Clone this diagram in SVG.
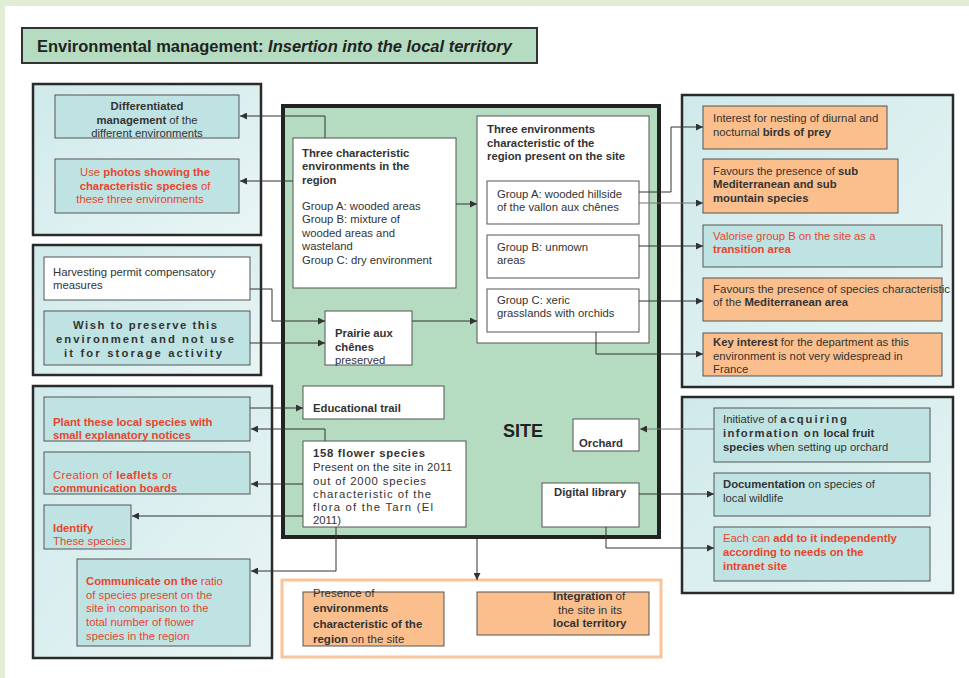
<svg xmlns="http://www.w3.org/2000/svg" width="969" height="678" viewBox="0 0 969 678">
<defs>
<linearGradient id="pg" x1="0" y1="0" x2="1" y2="1">
<stop offset="0" stop-color="#cfe9ea"/>
<stop offset="1" stop-color="#e9f5f5"/>
</linearGradient>
<marker id="ar" markerWidth="7" markerHeight="7" refX="7" refY="3.5" orient="auto" markerUnits="userSpaceOnUse">
<path d="M0,0 L7,3.5 L0,7 z" fill="#333"/>
</marker>
<style>
.panel{fill:url(#pg);stroke:#2a2a2a;stroke-width:2.5}
.teal{fill:#bfe3e3;stroke:#555;stroke-width:1}
.wh{fill:#fff;stroke:#555;stroke-width:1}
.or{fill:#fbbf8d;stroke:#555;stroke-width:1}
.t{font-family:"Liberation Sans",Arial,sans-serif;font-size:11.3px;fill:#333}
.r{fill:#e8452c}
.b{font-weight:bold}
.c{stroke:#333;stroke-width:1;fill:none;marker-end:url(#ar)}
.g{stroke:#777}
</style>
</defs>
<rect x="0" y="0" width="969" height="678" fill="#e2eed3"/>
<rect x="5" y="6" width="964" height="672" fill="#fff"/>

<g id="title">
<rect x="22" y="28" width="515" height="35" fill="#b5dcc0" stroke="#333" stroke-width="2"/>
<text x="37" y="52" class="t b" style="font-size:16.5px;fill:#222">Environmental management: <tspan font-style="italic">Insertion into the local territory</tspan></text>
</g>

<g id="panel-top-left">
<rect x="33" y="84" width="228" height="151" class="panel"/>
</g>
<g id="differentiated">
<rect x="55" y="95" width="184" height="43" class="teal"/>
<text class="t" text-anchor="middle"><tspan x="147" y="110" class="b">Differentiated</tspan><tspan x="147" y="124"><tspan class="b">management</tspan> of the</tspan><tspan x="147" y="137">different environments</tspan></text>
</g>
<g id="photos">
<rect x="55" y="159" width="184" height="54" class="teal"/>
<text class="t r" text-anchor="middle"><tspan x="145" y="176">Use <tspan class="b">photos showing the</tspan></tspan><tspan x="145" y="190"><tspan class="b">characteristic species</tspan> of</tspan><tspan x="140" y="203">these three environments</tspan></text>
</g>

<g id="panel-mid-left">
<rect x="33" y="245" width="228" height="130" class="panel"/>
</g>
<g id="harvesting">
<rect x="44" y="257" width="206" height="43" class="wh"/>
<text class="t"><tspan x="53" y="276">Harvesting permit compensatory</tspan><tspan x="53" y="289">measures</tspan></text>
</g>
<g id="wish">
<rect x="44" y="311" width="206" height="54" class="teal"/>
<text class="t b" text-anchor="middle"><tspan x="145" y="329" textLength="144" lengthAdjust="spacing">Wish to preserve this</tspan><tspan x="145" y="343" textLength="178" lengthAdjust="spacing">environment and not use</tspan><tspan x="143" y="357" textLength="158" lengthAdjust="spacing">it for storage activity</tspan></text>
</g>

<g id="panel-bottom-left">
<rect x="33" y="386" width="239" height="272" class="panel"/>
</g>
<g id="plant">
<rect x="44" y="397" width="206" height="44" class="teal"/>
<text class="t r b"><tspan x="53" y="426">Plant these local species with</tspan><tspan x="53" y="439">small explanatory notices</tspan></text>
</g>
<g id="creation">
<rect x="44" y="452" width="206" height="42" class="teal"/>
<text class="t r"><tspan x="53" y="479" letter-spacing="0.4">Creation of <tspan class="b">leaflets</tspan> or</tspan><tspan x="53" y="492" class="b">communication boards</tspan></text>
</g>
<g id="identify">
<rect x="44" y="505" width="87" height="44" class="teal"/>
<text class="t r"><tspan x="53" y="532" class="b">Identify</tspan><tspan x="53" y="545">These species</tspan></text>
</g>
<g id="communicate">
<rect x="77" y="559" width="173" height="87" class="teal"/>
<text class="t r"><tspan x="86" y="585"><tspan class="b">Communicate on the</tspan> ratio</tspan><tspan x="86" y="599">of species present on the</tspan><tspan x="86" y="612">site in comparison to the</tspan><tspan x="86" y="626">total number of flower</tspan><tspan x="86" y="640">species in the region</tspan></text>
</g>

<g id="site">
<rect x="283" y="106" width="376" height="431" fill="#b5dcc0" stroke="#222" stroke-width="4"/>
<text x="523" y="437" class="t b" text-anchor="middle" style="font-size:18px;fill:#222">SITE</text>
</g>
<g id="three-characteristic">
<rect x="293" y="138" width="163" height="150" class="wh"/>
<text class="t"><tspan x="302" y="157" class="b">Three characteristic</tspan><tspan x="302" y="170" class="b">environments in the</tspan><tspan x="302" y="184" class="b">region</tspan><tspan x="302" y="210">Group A: wooded areas</tspan><tspan x="302" y="223">Group B: mixture of</tspan><tspan x="302" y="237">wooded areas and</tspan><tspan x="302" y="250">wasteland</tspan><tspan x="302" y="264">Group C: dry environment</tspan></text>
</g>
<g id="three-present">
<rect x="477" y="116" width="172" height="227" class="wh"/>
<text class="t b"><tspan x="487" y="133">Three environments</tspan><tspan x="487" y="147">characteristic of the</tspan><tspan x="487" y="160">region present on the site</tspan></text>
</g>
<g id="group-a">
<rect x="487" y="181" width="152" height="43" class="wh"/>
<text class="t"><tspan x="497" y="198">Group A: wooded hillside</tspan><tspan x="497" y="211">of the vallon aux chênes</tspan></text>
</g>
<g id="group-b">
<rect x="487" y="235" width="152" height="43" class="wh"/>
<text class="t"><tspan x="497" y="251">Group B: unmown</tspan><tspan x="497" y="264">areas</tspan></text>
</g>
<g id="group-c">
<rect x="487" y="289" width="152" height="43" class="wh"/>
<text class="t"><tspan x="497" y="304">Group C: xeric</tspan><tspan x="497" y="317">grasslands with orchids</tspan></text>
</g>
<g id="prairie">
<rect x="325" y="311" width="87" height="54" class="wh"/>
<text class="t"><tspan x="335" y="337" class="b">Prairie aux</tspan><tspan x="335" y="351" class="b">chênes</tspan><tspan x="335" y="364">preserved</tspan></text>
</g>
<g id="educational-trail">
<rect x="303" y="386" width="141" height="33" class="wh"/>
<text x="313" y="412" class="t b">Educational trail</text>
</g>
<g id="flower-species">
<rect x="303" y="441" width="163" height="86" class="wh"/>
<text class="t"><tspan x="313" y="457" class="b" textLength="112" lengthAdjust="spacing">158 flower species</tspan><tspan x="313" y="471" textLength="139" lengthAdjust="spacing">Present on the site in 2011</tspan><tspan x="313" y="485" textLength="113" lengthAdjust="spacing">out of 2000 species</tspan><tspan x="313" y="498" textLength="118" lengthAdjust="spacing">characteristic of the</tspan><tspan x="313" y="511" textLength="120" lengthAdjust="spacing">flora of the Tarn (El</tspan><tspan x="313" y="524">2011)</tspan></text>
</g>
<g id="orchard">
<rect x="573" y="419" width="66" height="32" class="wh"/>
<text x="579" y="447" class="t b">Orchard</text>
</g>
<g id="digital-library">
<rect x="542" y="483" width="97" height="44" class="wh"/>
<text x="554" y="496" class="t b">Digital library</text>
</g>

<g id="bottom-frame">
<rect x="282" y="580" width="379" height="77" fill="#fff" stroke="#f9c49a" stroke-width="3"/>
</g>
<g id="presence">
<rect x="303" y="592" width="141" height="54" class="or"/>
<text class="t" style="font-size:11.5px"><tspan x="313" y="597">Presence of</tspan><tspan x="313" y="612" class="b">environments</tspan><tspan x="313" y="628" class="b">characteristic of the</tspan><tspan x="313" y="643"><tspan class="b">region</tspan> on the site</tspan></text>
</g>
<g id="integration">
<rect x="477" y="592" width="172" height="43" class="or"/>
<text class="t" style="font-size:11.5px"><tspan x="553" y="600"><tspan class="b">Integration</tspan>  of</tspan><tspan x="558" y="614">the site in its</tspan><tspan x="553" y="627" class="b">local territory</tspan></text>
</g>

<g id="panel-top-right">
<rect x="682" y="95" width="271" height="292" class="panel"/>
</g>
<g id="birds">
<rect x="703" y="106" width="184" height="43" class="or"/>
<text class="t"><tspan x="713" y="122">Interest for nesting of diurnal and</tspan><tspan x="713" y="136">nocturnal <tspan class="b">birds of prey</tspan></tspan></text>
</g>
<g id="sub-med">
<rect x="703" y="159" width="195" height="54" class="or"/>
<text class="t"><tspan x="713" y="175">Favours the presence of <tspan class="b">sub</tspan></tspan><tspan x="713" y="188" class="b">Mediterranean and sub</tspan><tspan x="713" y="202" class="b">mountain species</tspan></text>
</g>
<g id="valorise">
<rect x="703" y="225" width="239" height="42" class="teal"/>
<text class="t r"><tspan x="713" y="240">Valorise group B on the site as a</tspan><tspan x="713" y="253" class="b">transition area</tspan></text>
</g>
<g id="med-area">
<rect x="703" y="278" width="239" height="43" class="or"/>
<text class="t"><tspan x="713" y="293" textLength="237" lengthAdjust="spacingAndGlyphs">Favours the presence of species characteristic</tspan><tspan x="713" y="306">of the <tspan class="b">Mediterranean area</tspan></tspan></text>
</g>
<g id="key-interest">
<rect x="703" y="333" width="239" height="43" class="or"/>
<text class="t"><tspan x="713" y="346"><tspan class="b">Key interest</tspan> for the department as this</tspan><tspan x="713" y="360">environment is not very widespread in</tspan><tspan x="713" y="373">France</tspan></text>
</g>

<g id="panel-bottom-right">
<rect x="682" y="397" width="271" height="196" class="panel"/>
</g>
<g id="initiative">
<rect x="714" y="408" width="216" height="54" class="teal"/>
<text class="t"><tspan x="723" y="423">Initiative of <tspan class="b" letter-spacing="2">acquiring</tspan></tspan><tspan x="723" y="437" class="b"><tspan letter-spacing="1.3">information on</tspan> local fruit</tspan><tspan x="723" y="451"><tspan class="b">species</tspan> when setting up orchard</tspan></text>
</g>
<g id="documentation">
<rect x="714" y="473" width="216" height="43" class="teal"/>
<text class="t"><tspan x="723" y="488"><tspan class="b">Documentation</tspan>  on species of</tspan><tspan x="723" y="502">local wildlife</tspan></text>
</g>
<g id="each-can">
<rect x="714" y="527" width="216" height="54" class="teal"/>
<text class="t r"><tspan x="723" y="542">Each can <tspan class="b">add to it independently</tspan></tspan><tspan x="723" y="556" class="b">according to needs on the</tspan><tspan x="723" y="570" class="b">intranet site</tspan></text>
</g>

<g id="connectors">
<path class="c" d="M325,138 V116 H240"/>
<path class="c" d="M293,181 H240"/>
<path class="c" d="M250,289 H272 V321 H325"/>
<path class="c" d="M250,343 H325"/>
<path class="c" d="M456,204 H477"/>
<path class="c" d="M412,321 H477"/>
<path class="c" d="M250,408 H303"/>
<path class="c" d="M325,441 V429 H251"/>
<path class="c" d="M303,484 H251"/>
<path class="c" d="M303,516 H132"/>
<path class="c" d="M336,527 V571 H251"/>
<path class="c" d="M639,192 H671 V127 H703"/>
<path class="c g" d="M639,203 H703"/>
<path class="c" d="M639,246 H703"/>
<path class="c" d="M639,301 H703"/>
<path class="c" d="M596,332 V354 H703"/>
<path class="c g" d="M714,429 H640"/>
<path class="c" d="M639,494 H714"/>
<path class="c" d="M606,527 V548 H714"/>
<path class="c" d="M477,539 V580"/>
</g>
</svg>
